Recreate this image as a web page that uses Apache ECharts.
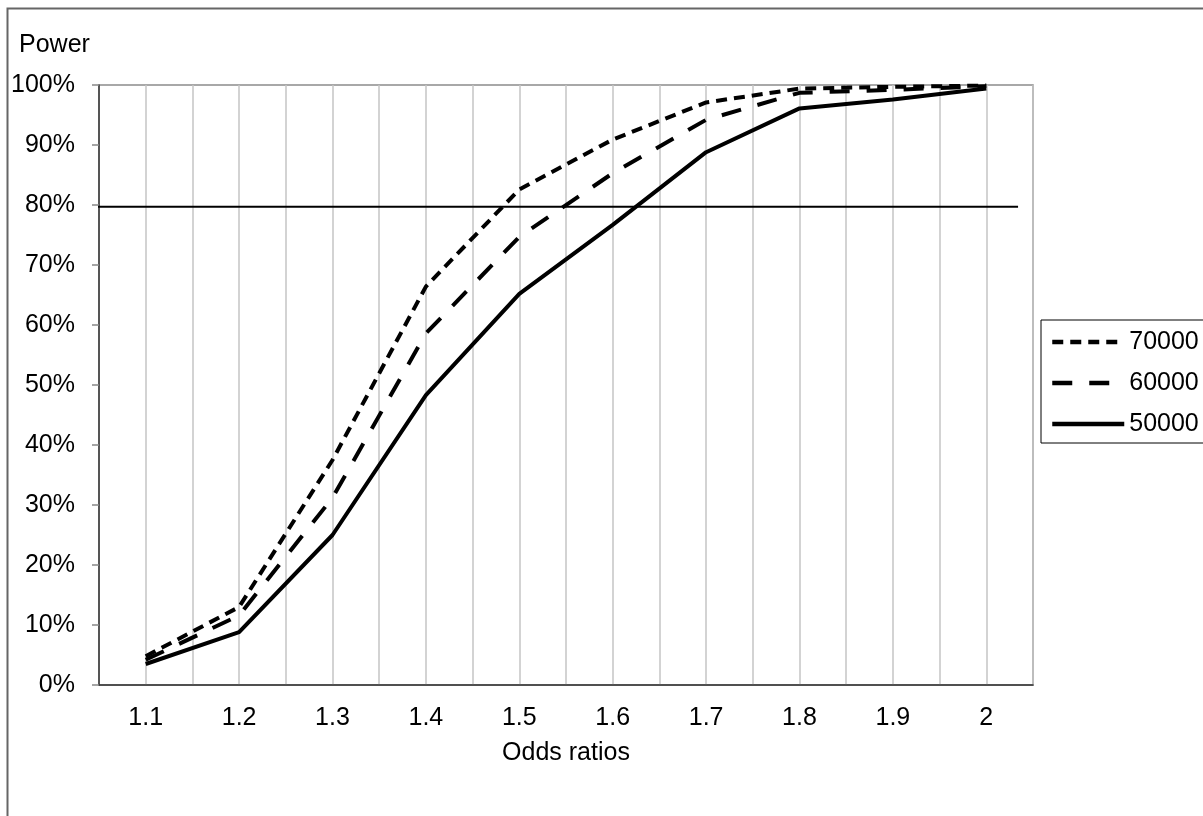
<!DOCTYPE html>
<html>
<head>
<meta charset="utf-8">
<script src="https://cdn.jsdelivr.net/npm/echarts@6/dist/echarts.min.js"></script>
<style>
html,body{margin:0;padding:0;background:#fff;}
#chart{width:1203px;height:816px;}
</style>
</head>
<body>
<div id="chart"></div>
<script>
const oddsRatios = [1.1, 1.2, 1.3, 1.4, 1.5, 1.6, 1.7, 1.8, 1.9, 2.0];
const seriesNames = ['70000', '60000', '50000'];
const power70000 = [0.048, 0.130, 0.375, 0.664, 0.826, 0.909, 0.971, 0.994, 0.997, 0.999];
const power60000 = [0.042, 0.116, 0.312, 0.586, 0.747, 0.853, 0.942, 0.987, 0.992, 0.998];
const power50000 = [0.035, 0.088, 0.250, 0.483, 0.652, 0.767, 0.888, 0.961, 0.976, 0.994];
const thresholdX = [1.037, 2.034];
const thresholdY = [0.797, 0.797];

const FONT = 'Liberation Sans, Arial, sans-serif';
const FS = 25;
function pairs(xs, ys){ return xs.map((x,i)=>[x, ys[i]]); }

const chart = echarts.init(document.getElementById('chart'), null, {renderer:'canvas'});
chart.setOption({
  animation: false,
  backgroundColor: '#fff',
  textStyle: {fontFamily: FONT, color: '#000'},
  graphic: [{
    type: 'rect', left: 5, top: 6, silent: true,
    shape: {width: 1400, height: 1000},
    style: {fill: 'none', stroke: '#666', lineWidth: 2}
  }],
  grid: {
    left: 99, top: 85, right: 170, bottom: 131,
    containLabel: false, outerBoundsMode: 'none',
    show: true, borderColor: '#8c8c8c', borderWidth: 1.5, backgroundColor: 'transparent'
  },
  legend: {
    data: seriesNames,
    orient: 'vertical',
    left: 1041, top: 320,
    itemWidth: 72, itemHeight: 14, itemGap: 13,
    padding: [8, 60, 5, 9],
    borderColor: '#000', borderWidth: 1,
    backgroundColor: '#fff',
    itemStyle: {opacity: 0, borderWidth: 0},
    lineStyle: {width: 4.5},
    textStyle: {fontFamily: FONT, fontSize: FS, color: '#000', lineHeight: 28, padding: [0,0,0,0]}
  },
  xAxis: {
    type: 'value',
    min: 1.05, max: 2.05, interval: 0.05,
    name: 'Odds ratios', nameLocation: 'middle', nameGap: 56,
    nameTextStyle: {fontFamily: FONT, fontSize: FS, color: '#000'},
    axisLine: {show: true, onZero: false, lineStyle: {color: '#333', width: 1.5}},
    axisTick: {show: false},
    axisLabel: {
      fontFamily: FONT, fontSize: FS, color: '#000', margin: 21,
      showMinLabel: true, showMaxLabel: true,
      formatter: function(v){
        const r = Math.round(v*100);
        if (r % 10 !== 0) return '';
        return String(r/100);
      }
    },
    splitLine: {show: true, lineStyle: {color: '#c4c4c4', width: 1.5}}
  },
  yAxis: {
    type: 'value',
    min: 0, max: 1, interval: 0.1,
    name: 'Power', nameLocation: 'end', nameGap: 40,
    nameTextStyle: {fontFamily: FONT, fontSize: FS, color: '#000', align: 'left', verticalAlign: 'middle', padding: [0,0,0,-80]},
    axisLine: {show: true, lineStyle: {color: '#333', width: 1.5}},
    axisTick: {show: true, inside: false, length: 7, lineStyle: {color: '#888', width: 1.5}},
    axisLabel: {
      fontFamily: FONT, fontSize: FS, color: '#000', margin: 24,
      formatter: function(v){ return Math.round(v*100) + '%'; }
    },
    splitLine: {show: false}
  },
  series: [
    {
      name: seriesNames[0], type: 'line', symbol: 'none',
      data: pairs(oddsRatios, power70000),
      lineStyle: {color: '#000', width: 4, type: [11, 7]},
      itemStyle: {color: '#000'}, z: 5
    },
    {
      name: seriesNames[1], type: 'line', symbol: 'none',
      data: pairs(oddsRatios, power60000),
      lineStyle: {color: '#000', width: 4, type: [20, 17]},
      itemStyle: {color: '#000'}, z: 4
    },
    {
      name: seriesNames[2], type: 'line', symbol: 'none',
      data: pairs(oddsRatios, power50000),
      lineStyle: {color: '#000', width: 4, type: 'solid'},
      itemStyle: {color: '#000'}, z: 3
    },
    {
      name: 'threshold', type: 'line', symbol: 'none', clip: false,
      data: pairs(thresholdX, thresholdY),
      lineStyle: {color: '#000', width: 2},
      itemStyle: {color: '#000'}, z: 2, silent: true
    }
  ]
});
</script>
</body>
</html>
